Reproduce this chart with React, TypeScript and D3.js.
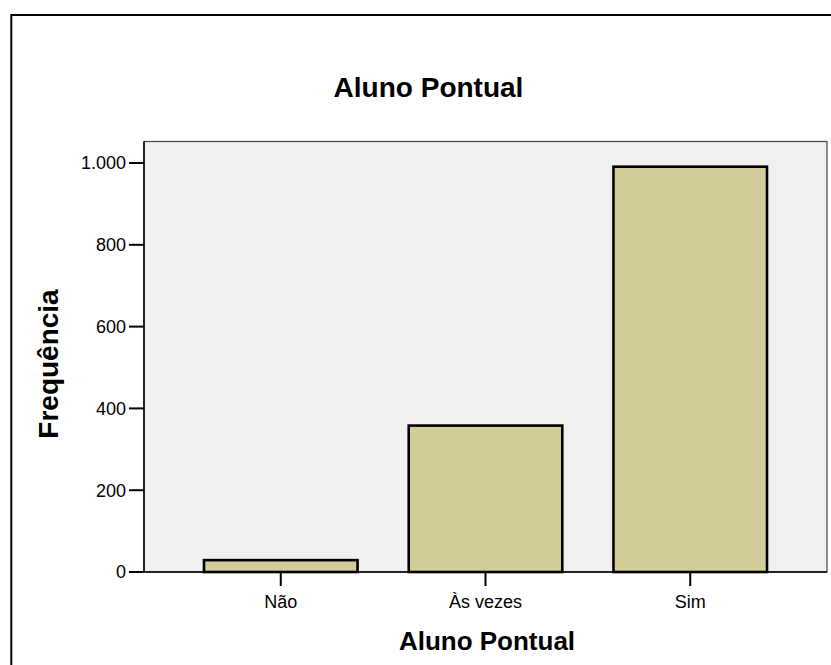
import React from "react";
import * as d3 from "d3";

const categories = ["Não", "Às vezes", "Sim"];
const frequencies = [29, 358, 991];
const yTicks = [0, 200, 400, 600, 800, 1000];

const W = 831;
const H = 665;
const plot = { left: 144, right: 827, top: 141.5, bottom: 572 };

const fmt = (v: number) => d3.format(",")(v).replace(/,/g, ".");

export default function App() {
  const x = d3
    .scaleBand<string>()
    .domain(categories)
    .range([plot.left, plot.right])
    .paddingInner(0.25)
    .paddingOuter(0.293);
  const y = d3.scaleLinear().domain([0, 1052.6]).range([plot.bottom, plot.top]);
  const font = "Liberation Sans, Arial, Helvetica, sans-serif";

  return (
    <svg
      width={W}
      height={H}
      style={{ position: "absolute", left: 0, top: 0, background: "#fff" }}
      fontFamily={font}
    >
      <rect x={0} y={0} width={W} height={H} fill="#fff" />
      {/* outer frame */}
      <rect x={11.3} y={15} width={W + 20} height={H + 20} fill="none" stroke="#000" strokeWidth={2} />
      {/* title */}
      <text x={428.5} y={96.5} textAnchor="middle" fontSize={28} fontWeight="bold" fill="#000">
        Aluno Pontual
      </text>
      {/* plot background */}
      <rect
        x={plot.left}
        y={plot.top}
        width={plot.right - plot.left}
        height={plot.bottom - plot.top}
        fill="#f0f0f0"
        stroke="#444"
        strokeWidth={1.2}
      />
      {/* bars */}
      {categories.map((c, i) => (
        <rect
          key={c}
          x={x(c)!}
          y={y(frequencies[i])}
          width={x.bandwidth()}
          height={y(0) - y(frequencies[i])}
          fill="#d3ce99"
          stroke="#000"
          strokeWidth={2.6}
        />
      ))}
      {/* y axis */}
      <line x1={plot.left} x2={plot.left} y1={plot.top} y2={plot.bottom} stroke="#000" strokeWidth={1.5} />
      {yTicks.map((t) => (
        <g key={t}>
          <line x1={plot.left - 15} x2={plot.left} y1={y(t)} y2={y(t)} stroke="#000" strokeWidth={2} />
          <text x={plot.left - 18} y={y(t)} dy="0.35em" textAnchor="end" fontSize={18} fill="#000">
            {fmt(t)}
          </text>
        </g>
      ))}
      {/* x axis */}
      <line x1={plot.left} x2={plot.right} y1={plot.bottom} y2={plot.bottom} stroke="#000" strokeWidth={1.5} />
      {categories.map((c) => {
        const cx = x(c)! + x.bandwidth() / 2;
        return (
          <g key={c}>
            <line x1={cx} x2={cx} y1={plot.bottom} y2={plot.bottom + 14} stroke="#000" strokeWidth={2} />
            <text x={cx} y={608} textAnchor="middle" fontSize={18} fill="#000">
              {c}
            </text>
          </g>
        );
      })}
      {/* axis titles */}
      <text x={487} y={650} textAnchor="middle" fontSize={26} fontWeight="bold" fill="#000">
        Aluno Pontual
      </text>
      <text
        transform={`translate(57.5, 364) rotate(-90)`}
        textAnchor="middle"
        fontSize={28}
        fontWeight="bold"
        fill="#000"
      >
        Frequência
      </text>
    </svg>
  );
}
